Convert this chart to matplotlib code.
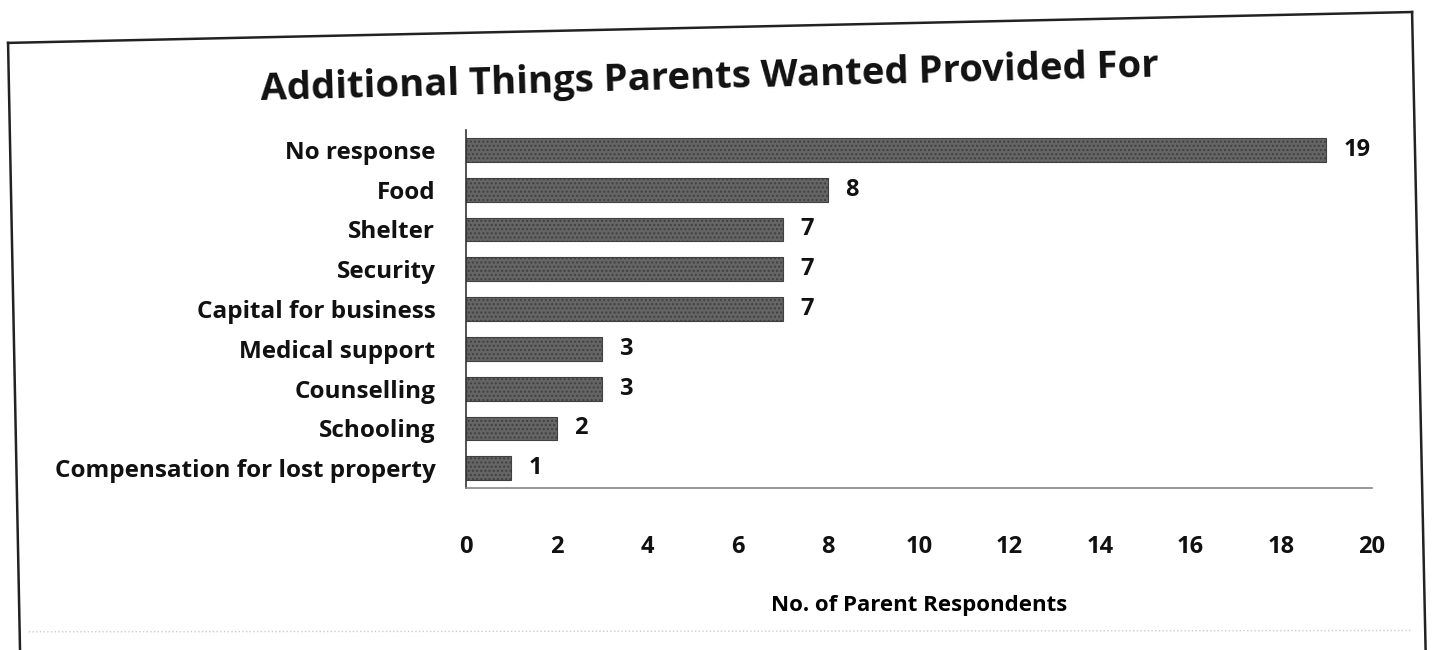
import matplotlib
matplotlib.use('Agg')
import matplotlib.pyplot as plt
from matplotlib.lines import Line2D

categories = ['No response', 'Food', 'Shelter', 'Security', 'Capital for business',
              'Medical support', 'Counselling', 'Schooling', 'Compensation for lost property']
counts = [19, 8, 7, 7, 7, 3, 3, 2, 1]
x_ticks = [0, 2, 4, 6, 8, 10, 12, 14, 16, 18, 20]

plt.rcParams['font.family'] = ['Open Sans', 'DejaVu Sans']
plt.rcParams['hatch.color'] = '#3c3c3c'
plt.rcParams['hatch.linewidth'] = 1.0

fig = plt.figure(figsize=(14.4, 6.5), dpi=100)
ax = fig.add_axes([0.3236, 0.249, 0.629, 0.551])

y = list(range(len(categories)))
bars = ax.barh(y, counts, height=0.6, color='#656565', edgecolor='#404040',
               linewidth=0.8, hatch='....')
ax.set_ylim(len(categories) - 0.5, -0.5)
ax.set_xlim(0, 20)

for bar, val in zip(bars, counts):
    ax.text(bar.get_width() + 0.38, bar.get_y() + bar.get_height() / 2, str(val),
            va='center', ha='left', fontsize=17, fontweight='bold', color='#111111')

ax.set_yticks(y)
ax.set_yticklabels(categories, fontsize=17.5, fontweight='bold', color='#111111')
ax.set_xticks(x_ticks)
ax.set_xticklabels([str(t) for t in x_ticks], fontsize=17, fontweight='bold', color='#111111')
ax.tick_params(axis='y', length=0, pad=22)
ax.tick_params(axis='x', length=0, pad=34)

for side in ['top', 'right']:
    ax.spines[side].set_visible(False)
ax.spines['left'].set_color('#333333')
ax.spines['left'].set_linewidth(1.2)
ax.spines['bottom'].set_color('#888888')
ax.spines['bottom'].set_linewidth(1.2)

ax.set_xlabel('No. of Parent Respondents', fontsize=16, fontweight='bold', labelpad=26)
fig.text(0.493, 0.88, 'Additional Things Parents Wanted Provided For', ha='center',
         va='center', fontsize=27.5, fontweight='bold', color='#111111', rotation=1.5)

# scanned frame around the chart (page is slightly tilted)
fig.add_artist(Line2D([0.0056, 0.9806], [0.934, 0.9815], color='#222222', lw=1.8))
fig.add_artist(Line2D([0.0056, 0.0139], [0.934, 0.0], color='#222222', lw=1.8))
fig.add_artist(Line2D([0.9806, 0.99], [0.9815, 0.0], color='#222222', lw=1.8))
fig.add_artist(Line2D([0.02, 0.98], [0.028, 0.03], color='#cccccc', lw=1.0, ls=':'))

fig.savefig('out.png', dpi=100)
